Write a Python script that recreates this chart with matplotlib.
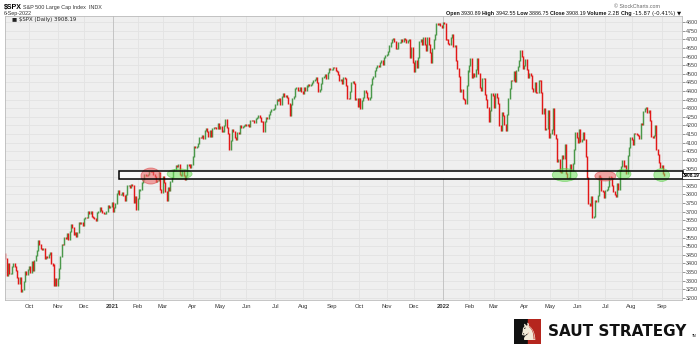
import numpy as np
import pandas as pd
import matplotlib
matplotlib.use("Agg")
import matplotlib.pyplot as plt
from matplotlib.patches import Rectangle, Ellipse

# $SPX daily closes (4-Sep-2020 .. 6-Sep-2022)
closes_2020 = [
    3427, 3332, 3399, 3339, 3341, 3384, 3401, 3385, 3357, 3319, 3281, 3316, 3237, 3247, 3298, 3352, 3335, 3363,
    3381, 3348, 3409, 3361, 3419, 3447, 3477, 3534, 3512, 3489, 3483, 3484, 3427, 3443, 3436, 3453, 3465, 3401, 3391, 3271, 3310, 3270,
    3310, 3369, 3443, 3510, 3509, 3550, 3546, 3573, 3537, 3585, 3627, 3610, 3568, 3582, 3558, 3578, 3635, 3630, 3638, 3622,
    3662, 3669, 3667, 3699, 3692, 3702, 3673, 3668, 3663, 3647, 3695, 3701, 3722, 3709, 3695, 3687, 3690, 3703, 3735, 3727, 3732, 3756,
]
closes_2021 = [
    3701, 3727, 3748, 3804, 3825, 3800, 3801, 3810, 3796, 3768, 3799, 3852, 3853, 3841, 3855, 3850, 3751, 3787, 3714,
    3774, 3826, 3830, 3872, 3887, 3916, 3911, 3910, 3916, 3935, 3933, 3931, 3914, 3907, 3877, 3881, 3925, 3829, 3811,
    3902, 3870, 3820, 3768, 3842, 3821, 3875, 3899, 3939, 3943, 3969, 3963, 3974, 3915, 3913, 3941, 3911, 3889, 3910, 3975, 3971, 3959, 3973,
    4020, 4078, 4074, 4080, 4097, 4129, 4128, 4142, 4125, 4170, 4185, 4163, 4135, 4173, 4135, 4180, 4188, 4187, 4183, 4211, 4181,
    4193, 4165, 4168, 4202, 4233, 4188, 4152, 4063, 4113, 4174, 4163, 4128, 4116, 4159, 4156, 4197, 4188, 4196, 4201, 4204,
    4202, 4208, 4193, 4230, 4227, 4227, 4220, 4239, 4247, 4255, 4247, 4224, 4222, 4166, 4225, 4246, 4242, 4266, 4281, 4291, 4292, 4298,
    4320, 4352, 4344, 4358, 4321, 4370, 4385, 4369, 4374, 4360, 4327, 4258, 4323, 4359, 4367, 4412, 4422, 4401, 4401, 4419, 4395,
    4387, 4423, 4403, 4429, 4437, 4432, 4437, 4448, 4461, 4468, 4480, 4448, 4400, 4406, 4442, 4480, 4486, 4496, 4470, 4509, 4529, 4523,
    4524, 4537, 4535, 4520, 4514, 4493, 4459, 4469, 4443, 4481, 4474, 4433, 4358, 4354, 4396, 4449, 4455, 4443, 4353, 4359, 4308,
    4357, 4300, 4346, 4364, 4400, 4391, 4361, 4351, 4364, 4438, 4471, 4486, 4520, 4536, 4550, 4545, 4566, 4575, 4552, 4596, 4605,
    4614, 4631, 4661, 4680, 4698, 4702, 4685, 4647, 4649, 4683, 4683, 4701, 4689, 4705, 4698, 4683, 4691, 4701, 4595, 4655, 4567,
    4513, 4577, 4538, 4592, 4687, 4701, 4667, 4712, 4669, 4634, 4710, 4669, 4621, 4568, 4649, 4697, 4726, 4791, 4786, 4793, 4779, 4766,
]
closes_2022 = [
    4797, 4794, 4701, 4696, 4677, 4670, 4713, 4726, 4659, 4663, 4577, 4533, 4483, 4398, 4410, 4356, 4350, 4327, 4432, 4516,
    4547, 4589, 4477, 4501, 4484, 4522, 4587, 4504, 4419, 4402, 4471, 4475, 4380, 4349, 4305, 4226, 4289, 4385, 4374,
    4306, 4387, 4363, 4329, 4201, 4171, 4278, 4260, 4204, 4173, 4262, 4358, 4412, 4463, 4461, 4512, 4456, 4520, 4543, 4576, 4632, 4602, 4530,
    4546, 4583, 4525, 4481, 4500, 4488, 4413, 4397, 4447, 4393, 4392, 4462, 4459, 4394, 4272, 4296, 4175, 4184, 4288, 4132,
    4155, 4175, 4300, 4147, 4123, 3991, 4001, 3935, 3930, 4024, 4008, 4089, 3924, 3901, 3901, 3974, 3941, 3979, 4058, 4158, 4132,
    4101, 4177, 4109, 4121, 4161, 4116, 4018, 3901, 3750, 3735, 3790, 3667, 3675, 3765, 3760, 3796, 3912, 3900, 3822, 3819, 3785,
    3825, 3831, 3845, 3903, 3899, 3854, 3819, 3802, 3790, 3863, 3831, 3937, 3960, 3999, 3962, 3967, 3921, 4024, 4072, 4130,
    4119, 4091, 4155, 4152, 4145, 4140, 4122, 4210, 4207, 4280, 4297, 4305, 4274, 4284, 4228, 4138, 4129, 4141, 4199, 4058, 4031, 3986, 3955,
    3967, 3924, 3908,
]
prev_close = 3455  # close of 3-Sep-2020

market_holidays = ["2020-09-07", "2020-11-26", "2020-12-25", "2021-01-01", "2021-01-18", "2021-02-15",
                   "2021-04-02", "2021-05-31", "2021-07-05", "2021-09-06", "2021-11-25", "2021-12-24",
                   "2022-01-17", "2022-02-21", "2022-04-15", "2022-05-30", "2022-06-20", "2022-07-04",
                   "2022-09-05"]

support_low, support_high = 3890, 3935
tests_green = [("2021-03-18", 3919, 19, 58), ("2022-05-17", 3913, 19, 75),
               ("2022-07-22", 3919, 11, 58), ("2022-09-01", 3913, 12, 75)]
tests_red = [("2021-02-16", 3907, 15, 93), ("2022-07-01", 3907, 16, 58)]

closes = np.array(closes_2020 + closes_2021 + closes_2022, dtype=float)
days = pd.bdate_range("2020-09-04", "2022-09-06")
days = days[~days.isin(pd.to_datetime(market_holidays))]
days = days[:len(closes)]
opens = np.concatenate([[prev_close], closes[:-1]])
idx = np.arange(len(closes))
day_pos = {d.strftime("%Y-%m-%d"): i for i, d in enumerate(days)}

W, H = 700, 344
fig = plt.figure(figsize=(W / 100, H / 100), dpi=100)
fig.patch.set_facecolor("white")
ax = fig.add_axes([5 / W, 1 - 300 / H, 677 / W, 284 / H])
ax.set_facecolor("#efefef")
ax.set_xlim(-0.3, 516.5)
ax.set_ylim(3188, 4835)

# grid
for v in range(3200, 4801, 50):
    ax.axhline(v, color="#e3e3e3", lw=0.6, zorder=0)
month_starts = [i for i in range(1, len(days)) if days[i].month != days[i - 1].month]
month_labels = []
for i in month_starts:
    d = days[i]
    jan = d.month == 1
    ax.axvline(i, color="#c4c4c4" if jan else "#e3e3e3", lw=0.7 if jan else 0.6, zorder=0)
    month_labels.append(str(d.year) if jan else d.strftime("%b"))

# support box
ax.add_patch(Rectangle((86.5, support_low), 516.5 - 86.5, support_high - support_low,
                       facecolor="#fafafa", edgecolor="none", zorder=1))
ax.add_patch(Rectangle((86.5, support_low), 517.5 - 86.5, support_high - support_low,
                       facecolor="none", edgecolor="black", lw=1.1, zorder=4, clip_on=False))

# candles
up = closes >= opens
lo = np.minimum(opens, closes)
hi = np.maximum(opens, closes)
ax.vlines(idx[up], lo[up] - 3, hi[up] + 3, color="#4a984a", lw=1.05, zorder=2)
ax.vlines(idx[~up], lo[~up] - 3, hi[~up] + 3, color="#e21818", lw=1.05, zorder=2)

for d, p, w, h in tests_green:
    ax.add_patch(Ellipse((day_pos[d], p), w, h, facecolor="#6fe05a", edgecolor="#55cc44",
                         alpha=0.55, lw=0.6, zorder=3))
for d, p, w, h in tests_red:
    ax.add_patch(Ellipse((day_pos[d], p), w, h, facecolor="#ec6a6a", edgecolor="#d84444",
                         alpha=0.6, lw=0.6, zorder=3))

# axes ticks
ax.set_xticks(month_starts)
ax.set_xticklabels(month_labels, fontsize=4.2, color="#333333", family="Liberation Sans")
for t, lab in zip(ax.get_xticklabels(), month_labels):
    if lab.isdigit():
        t.set_fontweight("bold")
ax.tick_params(axis="x", length=0, pad=3)
ax.yaxis.tick_right()
yvals = list(range(3200, 4801, 50))
ax.set_yticks(yvals)
ax.set_yticklabels(["" if v == 3900 else str(v) for v in yvals], fontsize=3.9, color="#444444",
                   family="Liberation Sans")
ax.tick_params(axis="y", length=2, width=0.4, pad=1, colors="#444444")
for s in ax.spines.values():
    s.set_color("#bbbbbb")
    s.set_linewidth(0.6)

ax.text(1.0008, 3908, "3908.19", transform=ax.get_yaxis_transform(), fontsize=3.35,
        fontweight="bold", va="center", ha="left", family="Liberation Sans", zorder=6,
        bbox=dict(boxstyle="square,pad=0.08", fc="white", ec="black", lw=0.5))

# headers
fig.text(4 / W, 1 - 8 / H, "$SPX", fontsize=5.0, fontweight="bold", va="center",
         family="Liberation Sans")
fig.text(23 / W, 1 - 8 / H, "S&P 500 Large Cap Index  INDX", fontsize=3.9, va="center",
         family="Liberation Sans", color="#333333")
fig.text(4 / W, 1 - 13.5 / H, "6-Sep-2022", fontsize=3.9, va="center", family="Liberation Sans",
         color="#333333")
ax.text(7 / 677, 1 - 4 / 284, "\u25a0 $SPX (Daily) 3908.19", transform=ax.transAxes, fontsize=3.9,
        va="center", family="DejaVu Sans", color="#222222")
fig.text(660 / W, 1 - 7 / H, "\u00a9 StockCharts.com", fontsize=3.8, va="center", ha="right",
         family="Liberation Sans", color="#666666")

renderer = fig.canvas.get_renderer()
parts = [("Open ", True), ("3930.89 ", False), ("High ", True), ("3942.55 ", False),
         ("Low ", True), ("3886.75 ", False), ("Close ", True), ("3908.19 ", False),
         ("Volume ", True), ("2.2B ", False), ("Chg ", True), ("-15.87 (-0.41%) \u25bc", False)]
texts = []
for s, b in parts:
    t = fig.text(0, 1 - 13.5 / H, s, fontsize=3.9, fontweight="bold" if b else "normal",
                 va="center", family="DejaVu Sans" if "\u25bc" in s else "Liberation Sans",
                 color="#111111")
    texts.append(t)
widths = [t.get_window_extent(renderer).width / fig.bbox.width for t in texts]
x = 681 / W - sum(widths)
for t, w in zip(texts, widths):
    t.set_x(x)
    x += w

# logo
lax = fig.add_axes([514 / W, 0, 27 / W, 25 / H])
lax.set_xlim(0, 1)
lax.set_ylim(0, 1)
lax.axis("off")
lax.add_patch(Rectangle((0, 0), 0.5, 1, color="#111111"))
lax.add_patch(Rectangle((0.5, 0), 0.5, 1, color="#b5261e"))
lax.text(0.5, 0.42, "\u265e", fontsize=17, color="#f3ead8", ha="center", va="center",
         family="DejaVu Sans")
fig.text(548 / W, 1 - 332 / H, "SAUT STRATEGY", fontsize=11, fontweight="bold",
         va="center", family="DejaVu Sans", color="#111111")
fig.text(692 / W, 1 - 336 / H, "TM", fontsize=2.3, va="center", family="Liberation Sans")

fig.savefig("out.png", dpi=100)
